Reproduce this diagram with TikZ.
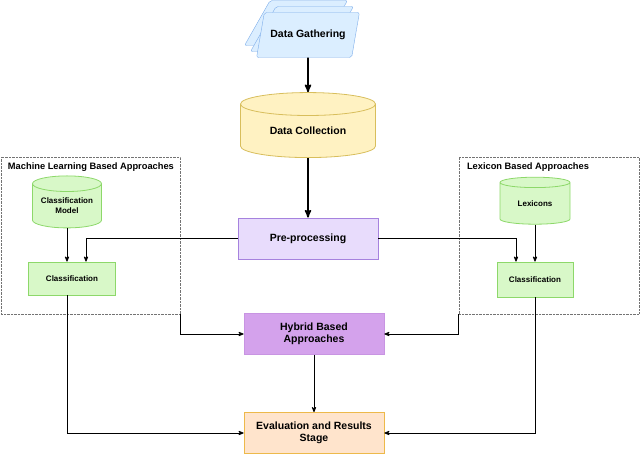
\documentclass[tikz,border=0pt]{standalone}
\usepackage{fontspec}
\setmainfont{Liberation Sans}
\usepackage{tikz}
\usetikzlibrary{arrows,positioning,shapes.geometric}
\definecolor{gatherfill}{HTML}{DBEEFF}
\definecolor{gatherline}{HTML}{7EAEEA}
\definecolor{collfill}{HTML}{FFF2C2}
\definecolor{collline}{HTML}{D8BE5C}
\definecolor{prefill}{HTML}{E8DCFC}
\definecolor{preline}{HTML}{A682DE}
\definecolor{hybfill}{HTML}{D4A2EC}
\definecolor{hybline}{HTML}{C894E2}
\definecolor{clsfill}{HTML}{D8F8C8}
\definecolor{clsline}{HTML}{8DD86A}
\definecolor{evalfill}{HTML}{FFE4CC}
\definecolor{evalline}{HTML}{EDB94A}

\begin{document}
\begin{tikzpicture}[
		auto,
		node distance=100pt,
		>=stealth',
		font=\bfseries,
		gather/.style={
			trapezium,
			trapezium left angle=63,
			trapezium right angle=117,
			trapezium stretches=true,
			minimum width=103pt,
			minimum height=45pt,
			inner sep=2pt,
			rounded corners=2pt,
			draw=gatherline,
			fill=gatherfill,
			font=\bfseries\fontsize{10.5}{12}\selectfont
		},
		store/.style={
			cylinder,
			shape border rotate=90,
			aspect=0.3,
			inner sep=0pt,
			align=center,
			line width=0.8pt
		},
		stage/.style={
			rectangle,
			inner sep=0pt,
			align=center,
			minimum width=140pt,
			minimum height=41pt,
			line width=0.8pt,
			font=\bfseries\fontsize{10.5}{12.5}\selectfont
		},
		classify/.style={
			rectangle,
			inner sep=0pt,
			draw=clsline,
			fill=clsfill,
			line width=0.8pt,
			font=\bfseries\fontsize{8}{9.5}\selectfont
		},
		group/.style={
			rectangle,
			draw=black!55,
			densely dotted,
			minimum height=157pt
		},
		grouptitle/.style={
			anchor=west,
			inner sep=0pt,
			font=\bfseries\fontsize{9.3}{11}\selectfont
		},
		flow/.style={
			->,
			line width=0.8pt
		},
		mainflow/.style={
			->,
			line width=1.6pt
		}
		]
		\useasboundingbox (0,0) rectangle (640pt,-454pt);
		
		% the two groups of approaches
		\node [group, minimum width=179pt] (mlbox) at (90.5pt,-235.5pt) {};
		\node [grouptitle] (mltitle) at ([xshift=7pt,yshift=-10pt]mlbox.north west) {Machine Learning Based Approaches};
		\node [group, minimum width=180pt] (lexbox) at (549pt,-235.5pt) {};
		\node [grouptitle] (lextitle) at ([xshift=8pt,yshift=-10pt]lexbox.north west) {Lexicon Based Approaches};
		
		% main column
		\node [gather] (gather3) at (296pt,-23pt) {\phantom{x}};
		\node [gather] (gather2) at (302pt,-29pt) {\phantom{x}};
		\node [gather] (gather) at (308pt,-35pt) {Data Gathering};
		
		\node [store, below of=gather, yshift=4pt, draw=collline, fill=collfill,
			minimum width=135pt, minimum height=65pt,
			font=\bfseries\fontsize{10.5}{12}\selectfont] (collection) {Data Collection};
		
		\node [stage, below of=collection, yshift=-7.5pt, draw=preline, fill=prefill] (pre) {Pre-processing};
		
		\node [stage, below of=pre, xshift=6pt, yshift=4.5pt, draw=hybline, fill=hybfill] (hybrid) {Hybrid Based\\Approaches};
		
		\node [stage, below of=hybrid, yshift=1pt, draw=evalline, fill=evalfill] (eval) {Evaluation and Results\\Stage};
		
		% left side
		\node [store, draw=clsline, fill=clsfill, minimum width=69pt, minimum height=52pt,
			font=\bfseries\fontsize{8}{10}\selectfont] (model) at (67pt,-206pt) {Classification\\Model};
		\node [classify, below of=model, xshift=5pt, yshift=27.5pt, minimum width=87pt, minimum height=33pt] (clsL) {Classification};
		
		% right side
		\node [store, draw=clsline, fill=clsfill, minimum width=70pt, minimum height=47pt,
			font=\bfseries\fontsize{8}{9.5}\selectfont] (lexicons) at (535pt,-203.5pt) {Lexicons};
		\node [classify, below of=lexicons, yshift=24pt, minimum width=76pt, minimum height=35pt] (clsR) {Classification};
		
		\draw [mainflow] (gather) -- (collection);
		\draw [mainflow] (collection) -- (pre);
		\draw [flow] (model) -- (model |- clsL.north);
		\draw [flow] (pre.west) -| ([xshift=14pt]clsL.north);
		\draw [flow] (lexicons) -- (clsR);
		\draw [flow] (pre.east) -| ([xshift=-19pt]clsR.north);
		\draw [flow] ([xshift=-5pt]clsL.south) |- (eval.west);
		\draw [flow] (clsR.south) |- (eval.east);
		\draw [flow] (mlbox.south east) |- (hybrid.west);
		\draw [flow] (lexbox.south west) |- (hybrid.east);
		\draw [flow] (hybrid) -- (eval);
		
\end{tikzpicture}
\end{document}
